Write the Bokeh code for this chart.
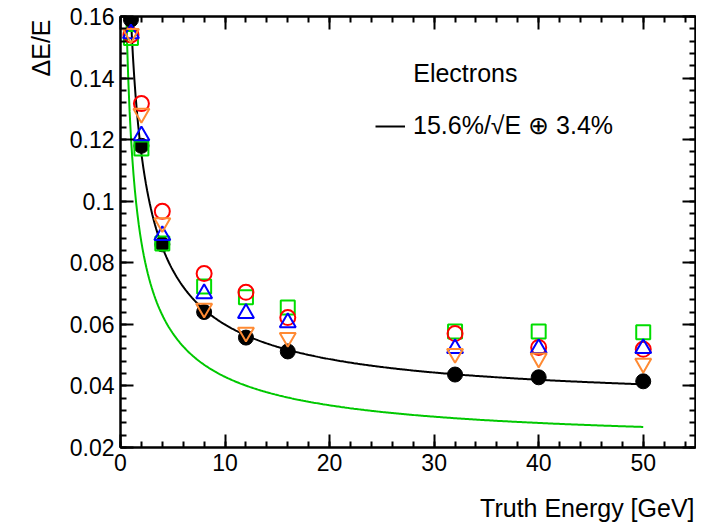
import numpy as np
from bokeh.plotting import figure
from bokeh.models import (Range1d, FixedTicker, LinearAxis, Label, Legend, LegendItem,
                          Title, CustomJSTickFormatter)
from bokeh.embed import file_html
from bokeh.resources import INLINE

# ---- data ----
energy = [1, 2, 4, 8, 12, 16, 32, 40, 50]
res_black = [0.159, 0.118, 0.086, 0.064, 0.0557, 0.0512, 0.0437, 0.0428, 0.0415]
res_red = [0.154, 0.1317, 0.0967, 0.0765, 0.0704, 0.0622, 0.0570, 0.0525, 0.0519]
res_orange = [0.1544, 0.1285, 0.0930, 0.0652, 0.0574, 0.0557, 0.0505, 0.0490, 0.0473]
res_blue = [0.1544, 0.1213, 0.0889, 0.0700, 0.0636, 0.0606, 0.0522, 0.0522, 0.0522]
res_green = [0.1530, 0.1171, 0.0863, 0.0723, 0.0688, 0.0655, 0.0577, 0.0577, 0.0574]

# fit parameters: sigma/E = a/sqrt(E) (+) b
fit_black = (0.156, 0.034)
fit_green = (0.119, 0.0207)
fit_black_range = (0.95, 50)
fit_green_range = (0.5, 50)

x_ticks = [0, 10, 20, 30, 40, 50]
x_minor = [i * 2 for i in range(28)]
y_ticks = [0.02, 0.04, 0.06, 0.08, 0.1, 0.12, 0.14, 0.16]
y_tick_labels = ["0.02", "0.04", "0.06", "0.08", "0.1", "0.12", "0.14", "0.16"]
y_minor = [0.02 + i * 0.004 for i in range(36)]

legend_title = "Electrons"
legend_label = "15.6%/\u221aE \u2295 3.4%"
x_title = "Truth Energy [GeV]"
y_title = "\u0394E/E"

FONT = "Liberation Sans"


def resolution(e, pars):
    a, b = pars
    return np.sqrt(a * a / e + b * b)


p = figure(width=696, height=523, output_backend="svg", toolbar_location=None,
           x_range=Range1d(0, 55), y_range=Range1d(0.02, 0.16),
           min_border_left=120, min_border_right=1, min_border_top=16,
           min_border_bottom=76)
p.xgrid.visible = False
p.ygrid.visible = False
p.outline_line_color = "black"
p.outline_line_width = 2
p.background_fill_color = "white"
p.border_fill_color = "white"


def style_axis(ax, labels=True):
    ax.axis_line_width = 2
    ax.axis_line_color = "black"
    ax.major_tick_line_width = 2
    ax.minor_tick_line_width = 2
    ax.major_tick_in = 13
    ax.major_tick_out = 0
    ax.minor_tick_in = 6
    ax.minor_tick_out = 0
    ax.major_label_text_font = FONT
    ax.major_label_text_color = "black"
    ax.major_label_text_font_size = "23px"
    if labels:
        ax.major_label_standoff = 6
    else:
        ax.formatter = CustomJSTickFormatter(code="return ''")
        ax.major_label_standoff = 0


p.xaxis[0].ticker = FixedTicker(ticks=x_ticks, minor_ticks=x_minor)
p.yaxis[0].ticker = FixedTicker(ticks=y_ticks, minor_ticks=y_minor)
p.yaxis[0].major_label_overrides = {v: s for v, s in zip(y_ticks, y_tick_labels)}
style_axis(p.xaxis[0])
style_axis(p.yaxis[0])

ax_top = LinearAxis(ticker=FixedTicker(ticks=x_ticks, minor_ticks=x_minor))
style_axis(ax_top, labels=False)
p.add_layout(ax_top, "above")
ax_right = LinearAxis(ticker=FixedTicker(ticks=y_ticks, minor_ticks=y_minor))
style_axis(ax_right, labels=False)
p.add_layout(ax_right, "right")

# invisible spacer between the x tick labels and the x title
spacer = LinearAxis(ticker=FixedTicker(ticks=[x_ticks[0]], minor_ticks=[]),
                    formatter=CustomJSTickFormatter(code="return ''"),
                    axis_line_color=None, major_tick_line_color=None,
                    minor_tick_line_color=None, major_tick_in=0, major_tick_out=18,
                    minor_tick_in=0, minor_tick_out=0, major_label_standoff=0,
                    major_label_text_font_size="1px")
p.add_layout(spacer, "below")

# fit curves
eg = np.linspace(fit_green_range[0], fit_green_range[1], 400)
p.line(eg, resolution(eg, fit_green), line_color="#00c800", line_width=2)
eb = np.linspace(fit_black_range[0], fit_black_range[1], 400)
black_curve = p.line(eb, resolution(eb, fit_black), line_color="black", line_width=2)

# markers
p.scatter(energy, res_black, marker="circle", size=15, fill_color="black", line_color="black")
p.scatter(energy, res_green, marker="square", size=14, fill_color=None,
          line_color="#00dd00", line_width=2)
p.scatter(energy, res_red, marker="circle", size=15, fill_color=None,
          line_color="#ff0000", line_width=2)
p.scatter(energy, res_blue, marker="triangle", size=16, fill_color=None,
          line_color="#0000ff", line_width=2)
p.scatter(energy, res_orange, marker="inverted_triangle", size=16, fill_color=None,
          line_color="#ff8a33", line_width=2)

# legend
leg = Legend(items=[LegendItem(label=legend_label, renderers=[black_curve])],
             location=(255, 307), padding=0, margin=0, spacing=0,
             glyph_width=30, label_standoff=8,
             label_text_font=FONT, label_text_font_size="25px", label_text_color="black",
             border_line_color=None, background_fill_alpha=0)
p.add_layout(leg)

p.add_layout(Label(x=28.0, y=0.1415, text=legend_title, text_font=FONT,
                   text_font_size="25px", text_baseline="middle", text_align="left",
                   text_color="black"))

# axis titles
p.add_layout(Title(text=x_title, align="right", offset=1, standoff=0,
                   text_font=FONT, text_font_size="25px", text_font_style="normal",
                   text_color="black"), "below")
p.add_layout(Title(text=y_title, align="right", offset=3, standoff=23,
                   text_font=FONT, text_font_size="25px", text_font_style="normal",
                   text_color="black"), "left")

open("out.html", "w").write(file_html(p, INLINE))
